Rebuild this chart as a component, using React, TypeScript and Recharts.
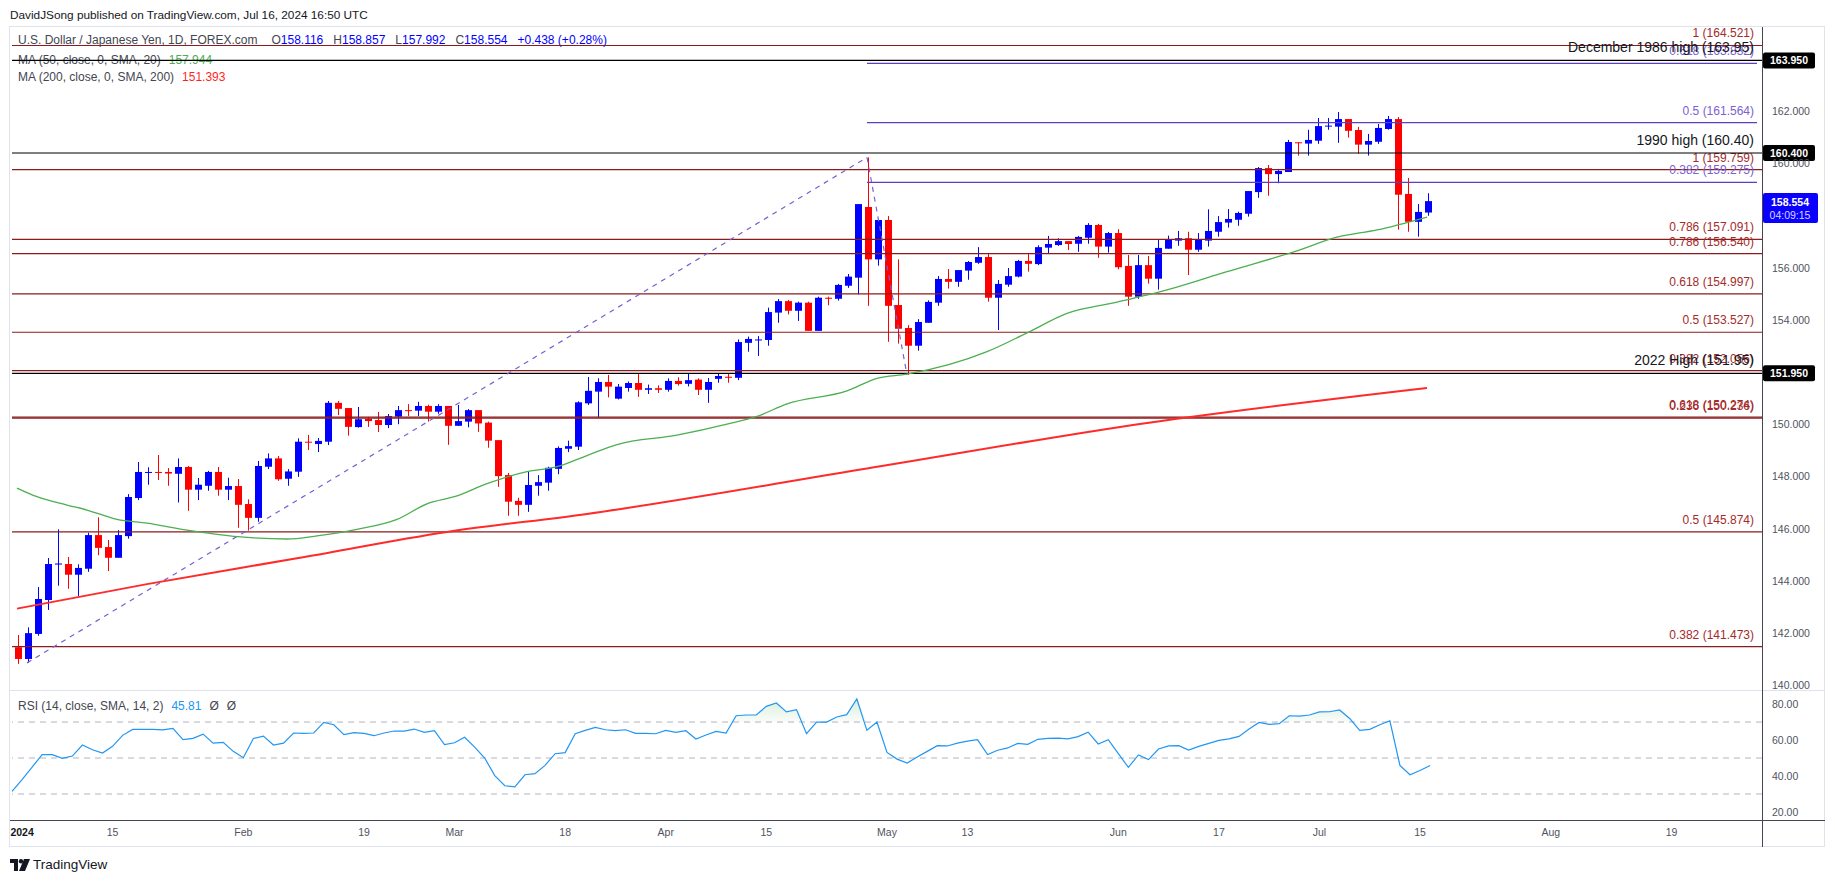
import React from "react";
import { ComposedChart, Bar, Line, Area, XAxis, YAxis, ReferenceLine } from "recharts";

const FONT = "'Liberation Sans', Arial, Helvetica, sans-serif";

// trading-day index: -1 = Jan 1 2024, 0 = Jan 2 2024 ... 140 = Jul 16 2024
const firstIdx = -1;
const lastIdx = 173;

const opens = [141.45,141.0,141.96,143.26,144.62,144.64,144.23,144.46,145.75,145.29,144.88,145.71,147.17,148.14,148.17,148.17,148.1,148.36,147.49,147.64,148.17,147.49,147.63,146.94,146.41,148.37,148.69,147.91,148.18,149.33,149.24,149.33,150.82,150.62,149.89,150.21,150.16,149.97,150.29,150.54,150.52,150.7,150.48,150.7,149.94,150.1,150.54,150.06,149.39,148.05,147.06,146.91,147.64,147.76,148.29,149.06,149.14,150.8,151.25,151.62,150.98,151.39,151.58,151.32,151.38,151.32,151.66,151.55,151.71,151.32,151.74,151.82,151.78,153.12,153.23,153.23,154.28,154.72,154.35,154.66,153.58,154.85,154.81,155.31,155.62,158.33,156.32,157.83,154.57,153.69,153.01,153.89,154.66,155.57,155.46,155.89,156.19,156.41,154.85,155.35,155.66,156.26,156.14,156.77,156.87,157.02,156.92,157.15,157.64,156.81,157.33,156.07,154.89,156.1,155.58,156.73,157.04,157.13,156.69,157.04,157.38,157.73,157.84,158.07,158.9,159.82,159.59,159.67,160.81,160.76,160.87,161.42,161.41,161.7,161.28,160.72,160.83,161.32,161.7,158.83,157.76,158.116];
const highs = [141.92,142.21,143.76,144.87,145.97,144.91,144.63,145.84,146.43,145.56,145.94,147.32,148.55,148.35,148.82,148.32,148.69,148.4,147.94,148.21,148.36,147.95,147.9,147.12,148.59,148.88,148.78,148.28,149.46,149.59,149.47,150.89,150.89,150.62,150.66,150.28,150.47,150.39,150.7,150.77,150.86,150.75,150.77,150.7,150.74,150.58,150.54,150.1,149.39,148.13,147.18,148.18,148.05,148.37,149.15,149.37,150.88,151.81,151.76,151.89,151.54,151.64,151.95,151.52,151.49,151.76,151.8,151.95,151.76,151.77,151.95,151.95,153.25,153.36,153.38,154.47,154.8,154.76,154.7,154.7,154.89,154.89,155.38,155.76,158.44,160.23,157.87,157.98,156.32,153.8,154.03,154.75,155.68,155.95,155.91,156.26,156.79,156.54,155.53,155.99,156.3,156.54,156.86,157.22,157.13,157.02,157.22,157.71,157.68,157.37,157.48,156.49,156.49,156.45,157.1,157.23,157.41,157.38,157.33,158.24,157.98,158.25,158.15,158.94,159.86,159.94,159.79,160.9,160.81,161.29,161.74,161.74,161.97,161.7,161.4,161.13,161.51,161.82,161.78,159.44,158.44,158.857];
const lows = [140.81,140.85,141.89,142.88,143.81,143.69,143.42,144.34,144.98,144.37,144.88,145.61,147.09,147.68,147.86,147.64,147.0,146.68,147.09,147.45,147.26,147.09,146.03,145.92,146.26,148.28,147.83,147.64,147.98,149.01,148.93,149.2,150.35,149.56,149.87,149.9,149.7,149.85,150.0,150.31,150.31,150.1,150.4,149.21,149.94,149.88,149.71,149.1,147.6,146.49,146.49,146.64,147.26,147.45,148.08,148.93,149.01,150.74,150.26,151.03,150.95,151.25,151.05,151.16,151.2,151.25,151.48,151.45,151.12,150.82,151.59,151.59,151.69,152.78,152.62,153.01,153.89,154.21,153.96,153.58,153.58,154.56,154.74,155.23,154.98,154.54,156.08,153.16,153.09,151.89,152.82,153.89,154.54,155.2,155.27,155.54,156.15,154.7,153.61,155.27,155.63,155.85,156.1,156.54,156.84,156.68,156.61,156.92,156.38,156.58,155.94,154.54,154.81,155.39,155.16,156.73,156.84,155.72,156.61,156.81,157.19,157.54,157.61,157.96,158.68,158.76,159.24,159.67,160.3,160.3,160.75,161.29,160.79,160.99,160.37,160.3,160.75,161.29,157.46,157.38,157.19,157.992];
const closes = [141.0,141.99,143.3,144.64,144.66,144.23,144.49,145.75,145.26,144.88,145.75,147.21,148.17,148.17,148.14,148.11,148.36,147.49,147.68,148.17,147.49,147.63,146.91,146.41,148.4,148.69,147.89,148.19,149.33,149.3,149.36,150.82,150.59,149.9,150.19,150.12,149.97,150.31,150.54,150.51,150.7,150.48,150.7,149.94,150.12,150.54,150.03,149.37,148.01,147.03,146.91,147.67,147.78,148.33,149.09,149.16,150.84,151.28,151.62,151.44,151.44,151.58,151.32,151.38,151.32,151.66,151.54,151.69,151.32,151.62,151.85,151.78,153.15,153.27,153.25,154.3,154.72,154.35,154.66,153.58,154.85,154.81,155.34,155.66,158.44,156.32,157.83,154.54,153.66,153.01,153.92,154.69,155.57,155.46,155.91,156.22,156.41,154.85,155.38,155.68,156.26,156.15,156.79,156.91,157.02,156.91,157.18,157.64,156.81,157.33,156.02,154.89,156.1,155.58,156.76,157.07,157.13,156.69,157.07,157.41,157.75,157.87,158.1,158.94,159.82,159.59,159.71,160.82,160.78,160.9,161.43,161.45,161.7,161.25,160.72,160.86,161.36,161.7,158.8,157.76,158.14,158.554];
const rsiValues = [31.5,38.0,45.0,51.9,51.9,49.8,51.1,57.2,54.6,52.8,56.5,62.6,65.9,65.9,65.9,65.6,66.5,60.2,60.9,63.3,58.3,58.7,53.7,50.2,60.9,62.2,57.2,58.3,63.9,63.7,63.9,69.8,68.5,63.0,64.1,63.7,62.4,63.9,65.0,65.0,66.1,64.3,65.2,57.4,58.5,61.5,56.1,50.0,40.2,34.6,34.0,40.7,41.3,45.9,52.4,53.0,63.5,65.4,67.0,65.7,65.2,65.7,63.7,63.7,63.5,65.4,64.3,65.2,60.6,62.8,64.8,63.9,73.5,73.9,73.9,78.7,80.6,75.6,76.9,63.5,70.0,70.0,72.8,74.1,82.8,65.4,70.0,53.1,49.4,47.2,50.6,53.7,56.9,56.7,58.3,59.4,60.2,51.9,54.3,55.6,58.1,57.6,60.4,60.9,61.1,60.6,61.9,64.4,57.8,60.2,52.4,44.8,51.7,49.1,55.0,56.7,56.9,54.4,56.5,58.1,59.8,60.6,62.0,66.1,69.8,68.7,69.1,73.5,73.3,73.9,75.6,75.7,76.7,72.0,65.4,65.9,68.5,70.7,45.9,40.7,43.1,45.81];

const ma50Idx = [-1,1,4,6,9,12,16,19,22,26,29,33,37,40,43,46,50,53,56,59,65,70,73,76,82,85,88,96,100,104,109,114,120,127,131,135,140];
const ma50Val = [147.55,147.22,146.9,146.71,146.35,146.21,145.94,145.78,145.66,145.6,145.72,145.97,146.35,146.95,147.25,147.72,148.18,148.37,148.8,149.22,149.58,150.0,150.3,150.78,151.28,151.76,151.92,152.78,153.5,154.25,154.68,155.15,155.85,156.65,157.17,157.45,157.944];
const ma200Idx = [-1,12,27,42,56,84,112,140];
const ma200Val = [142.93,143.87,144.86,145.87,146.56,148.3,150.05,151.393];

const xTickIdx = [0, 9, 22, 34, 43, 54, 64, 74, 86, 94, 109, 119, 129, 139, 152, 164];
const xTickLabels = ["2024", "15", "Feb", "19", "Mar", "18", "Apr", "15", "May", "13", "Jun", "17", "Jul", "15", "Aug", "19"];

const priceTicks = [140, 142, 144, 146, 148, 150, 154, 156, 160, 162];
const rsiTicks = [20, 40, 60, 80];

const redLevels = [164.521, 159.759, 157.091, 156.54, 154.997, 153.527, 152.056, 150.274, 150.236, 145.874, 141.473];
const redLabels = ["1 (164.521)", "1 (159.759)", "0.786 (157.091)", "0.786 (156.540)", "0.618 (154.997)", "0.5 (153.527)", "0.382 (152.056)", "0.618 (150.274)", "0.236 (150.236)", "0.5 (145.874)", "0.382 (141.473)"];
const purpleLevels = [163.832, 161.564, 159.275];
const purpleLabels = ["0.618 (163.832)", "0.5 (161.564)", "0.382 (159.275)"];
const purpleStartIdx = 84;
const keyLevels = [163.95, 160.4, 151.95];
const keyLabels = ["December 1986 high (163.95)", "1990 high (160.40)", "2022 High (151.95)"];
const keyBadges = ["163.950", "160.400", "151.950"];
const trendIdx = [0, 84, 88];
const trendVal = [140.85, 160.23, 151.89];
const lastPrice = 158.554;

const BLUE = "#0000ff";
const RED = "#ff0000";
const FIB_RED = "#8a1c1c";
const FIB_RED_TXT = "#a52a2a";
const PURPLE = "#5e3fc4";
const PURPLE_TXT = "#7b61d1";

const rows: any[] = [];
for (let k = firstIdx; k <= lastIdx; k++) {
  const j = k - firstIdx;
  const r: any = { k };
  if (j < opens.length) {
    r.o = opens[j];
    r.h = highs[j];
    r.l = lows[j];
    r.c = closes[j];
    r.range = [lows[j], highs[j]];
    r.rsi = rsiValues[j];
  }
  const a = ma50Idx.indexOf(k);
  if (a >= 0) r.ma50 = ma50Val[a];
  const b = ma200Idx.indexOf(k);
  if (b >= 0) r.ma200 = ma200Val[b];
  rows.push(r);
}

const Candle = (props: any) => {
  const { x, y, width, height, payload } = props;
  if (!payload || payload.o == null || x == null || y == null) return null;
  const top = Math.min(y, y + height);
  const h = Math.abs(height);
  const span = payload.h - payload.l || 1;
  const yOf = (v: number) => top + ((payload.h - v) / span) * h;
  const up = payload.c >= payload.o;
  const col = up ? BLUE : RED;
  const cx = Math.round(x + width / 2) + 0.5;
  const bTop = yOf(Math.max(payload.o, payload.c));
  const bBot = yOf(Math.min(payload.o, payload.c));
  return (
    <g>
      <line x1={cx} x2={cx} y1={top} y2={top + h} stroke={col} strokeWidth={1} />
      <rect x={cx - 3.5} y={bTop} width={7} height={Math.max(1, bBot - bTop)} fill={col} />
    </g>
  );
};

const makeLabel = (text: string, color: string, size: number, offset: number, badge?: string) => (props: any) => {
  const vb = props.viewBox || {};
  const right = (vb.x || 0) + (vb.width || 0);
  const yy = vb.y || 0;
  return (
    <g>
      {text ? (
        <text x={right - offset} y={yy - 8} textAnchor="end" fontSize={size} fill={color} fontFamily={FONT}>
          {text}
        </text>
      ) : null}
      {badge ? (
        <g>
          <rect x={right + 1} y={yy - 8} width={52} height={16} fill="#000000" rx={2} />
          <text x={right + 27} y={yy + 4} textAnchor="middle" fontSize={10.5} fontWeight="bold" fill="#ffffff" fontFamily={FONT}>
            {badge}
          </text>
        </g>
      ) : null}
    </g>
  );
};

const lastLabel = (props: any) => {
  const vb = props.viewBox || {};
  const right = (vb.x || 0) + (vb.width || 0);
  const yy = vb.y || 0;
  return (
    <g>
      <rect x={right + 1} y={yy - 8} width={55} height={30} fill="#0a00ff" rx={2} />
      <text x={right + 28} y={yy + 5} textAnchor="middle" fontSize={10.5} fontWeight="bold" fill="#ffffff" fontFamily={FONT}>
        {lastPrice.toFixed(3)}
      </text>
      <text x={right + 28} y={yy + 18} textAnchor="middle" fontSize={10.5} fill="#d6d6ff" fontFamily={FONT}>
        04:09:15
      </text>
    </g>
  );
};

const PriceTick = (props: any) => {
  const { x, y, payload } = props;
  return (
    <text x={x} y={y} dy={4} textAnchor="start" fontSize={10.5} fill="#50535e" fontFamily={FONT}>
      {Number(payload.value).toFixed(3)}
    </text>
  );
};

const RsiTick = (props: any) => {
  const { x, y, payload } = props;
  return (
    <text x={x} y={y} dy={4} textAnchor="start" fontSize={10.5} fill="#50535e" fontFamily={FONT}>
      {Number(payload.value).toFixed(2)}
    </text>
  );
};

const DateTick = (props: any) => {
  const { x, y, payload } = props;
  const i = xTickIdx.indexOf(payload.value);
  const label = i >= 0 ? xTickLabels[i] : "";
  const isYear = label === "2024";
  return (
    <text x={x} y={y} dy={12} textAnchor="middle" fontSize={10.5} fill={isYear ? "#131722" : "#50535e"} fontWeight={isYear ? "bold" : "normal"} fontFamily={FONT}>
      {label}
    </text>
  );
};

const txt: React.CSSProperties = { position: "absolute", fontFamily: FONT, whiteSpace: "nowrap", lineHeight: "14px" };

export default function App() {
  return (
    <div style={{ position: "absolute", left: 0, top: 0, width: 1835, height: 883, background: "#ffffff", overflow: "hidden" }}>
      {/* frame */}
      <svg width={1835} height={883} style={{ position: "absolute", left: 0, top: 0 }}>
        <rect x={9.5} y={26.5} width={1815} height={820} fill="none" stroke="#e0e3eb" />
        <line x1={10} x2={1825} y1={690.5} y2={690.5} stroke="#e0e3eb" />
        <line x1={10} x2={1825} y1={820.5} y2={820.5} stroke="#434651" />
        <line x1={1762.5} x2={1762.5} y1={27} y2={847} stroke="#434651" />
      </svg>

      <div style={{ ...txt, left: 10, top: 8, fontSize: 11.8, color: "#131722" }}>
        DavidJSong published on TradingView.com, Jul 16, 2024 16:50 UTC
      </div>
      <div style={{ ...txt, left: 18, top: 33, fontSize: 12, color: "#434651" }}>
        U.S. Dollar / Japanese Yen, 1D, FOREX.com
        <span style={{ marginLeft: 14 }}>O</span><span style={{ color: BLUE }}>158.116</span>
        <span style={{ marginLeft: 10 }}>H</span><span style={{ color: BLUE }}>158.857</span>
        <span style={{ marginLeft: 10 }}>L</span><span style={{ color: BLUE }}>157.992</span>
        <span style={{ marginLeft: 10 }}>C</span><span style={{ color: BLUE }}>158.554</span>
        <span style={{ marginLeft: 10, color: BLUE }}>+0.438 (+0.28%)</span>
      </div>
      <div style={{ ...txt, left: 18, top: 53, fontSize: 12, color: "#434651" }}>
        MA (50, close, 0, SMA, 20)<span style={{ marginLeft: 8, color: "#4caf50" }}>157.944</span>
      </div>
      <div style={{ ...txt, left: 18, top: 70, fontSize: 12, color: "#434651" }}>
        MA (200, close, 0, SMA, 200)<span style={{ marginLeft: 8, color: "#ff1f1f" }}>151.393</span>
      </div>
      <div style={{ ...txt, left: 18, top: 699, fontSize: 12, color: "#434651" }}>
        RSI (14, close, SMA, 14, 2)<span style={{ marginLeft: 8, color: "#2196f3" }}>45.81</span>
        <span style={{ marginLeft: 8 }}>Ø</span><span style={{ marginLeft: 8 }}>Ø</span>
      </div>

      {/* price panel */}
      <div style={{ position: "absolute", left: 0, top: 0 }}>
        <ComposedChart width={1835} height={690} data={rows} margin={{ top: 27, right: 13, bottom: 0, left: 12 }}>
          <XAxis dataKey="k" hide />
          <YAxis
            yAxisId={0}
            orientation="right"
            width={60}
            domain={[139.81, 165.23]}
            allowDataOverflow
            ticks={priceTicks}
            interval={0}
            axisLine={false}
            tickLine={false}
            tickSize={0}
            tickMargin={10}
            tick={<PriceTick />}
          />
          {redLevels.map((v, i) => (
            <ReferenceLine key={"r" + i} y={v} stroke={FIB_RED} strokeWidth={1.2} label={makeLabel(redLabels[i], FIB_RED_TXT, 12, 8)} />
          ))}
          {purpleLevels.map((v, i) => (
            <ReferenceLine
              key={"p" + i}
              segment={[{ x: purpleStartIdx, y: v }, { x: lastIdx, y: v }]}
              stroke={PURPLE}
              strokeWidth={1.2}
              label={makeLabel(purpleLabels[i], PURPLE_TXT, 12, 3)}
            />
          ))}
          {keyLevels.map((v, i) => (
            <ReferenceLine key={"k" + i} y={v} stroke="#000000" strokeWidth={1.2} label={makeLabel(keyLabels[i], "#131722", 14, 8, keyBadges[i])} />
          ))}
          <ReferenceLine
            segment={[{ x: trendIdx[0], y: trendVal[0] }, { x: trendIdx[1], y: trendVal[1] }]}
            stroke="#7a5fd0"
            strokeDasharray="5 5"
            strokeWidth={1.2}
          />
          <ReferenceLine
            segment={[{ x: trendIdx[1], y: trendVal[1] }, { x: trendIdx[2], y: trendVal[2] }]}
            stroke="#7a5fd0"
            strokeDasharray="5 5"
            strokeWidth={1.2}
          />
          <Line dataKey="ma200" type="monotone" stroke="#ff2a2a" strokeWidth={2} dot={false} connectNulls isAnimationActive={false} />
          <Line dataKey="ma50" type="monotone" stroke="#4caf50" strokeWidth={1.3} dot={false} connectNulls isAnimationActive={false} />
          <Bar dataKey="range" barSize={7} shape={Candle} isAnimationActive={false} />
          <ReferenceLine y={lastPrice} stroke="none" label={lastLabel} />
        </ComposedChart>
      </div>

      {/* RSI panel */}
      <div style={{ position: "absolute", left: 0, top: 690 }}>
        <ComposedChart width={1835} height={193} data={rows} margin={{ top: 0, right: 13, bottom: 43, left: 12 }}>
          <defs>
            <linearGradient id="rsiFill" x1="0" y1="0" x2="0" y2="1">
              <stop offset="0%" stopColor="#4caf50" stopOpacity={0.35} />
              <stop offset="100%" stopColor="#4caf50" stopOpacity={0.05} />
            </linearGradient>
          </defs>
          <XAxis
            dataKey="k"
            ticks={xTickIdx}
            interval={0}
            height={20}
            axisLine={false}
            tickLine={false}
            tickSize={0}
            tickMargin={4}
            tick={<DateTick />}
          />
          <YAxis
            orientation="right"
            width={60}
            domain={[15.56, 87.8]}
            allowDataOverflow
            ticks={rsiTicks}
            interval={0}
            axisLine={false}
            tickLine={false}
            tickSize={0}
            tickMargin={10}
            tick={<RsiTick />}
          />
          <ReferenceLine y={70} stroke="#b2b5be" strokeDasharray="6 5" />
          <ReferenceLine y={50} stroke="#b2b5be" strokeDasharray="6 5" />
          <ReferenceLine y={30} stroke="#b2b5be" strokeDasharray="6 5" />
          <Area
            dataKey={(d: any) => (d.rsi == null ? null : [70, Math.max(70, d.rsi)])}
            stroke="none"
            fill="url(#rsiFill)"
            isAnimationActive={false}
          />
          <Line dataKey="rsi" stroke="#2196f3" strokeWidth={1.2} dot={false} isAnimationActive={false} />
        </ComposedChart>
      </div>

      {/* TradingView logo */}
      <svg width={24} height={14} style={{ position: "absolute", left: 10, top: 859 }}>
        <path d="M0 0 H8 V12 H4 V4 H0 Z" fill="#131722" />
        <circle cx={11} cy={2.2} r={2.2} fill="#131722" />
        <path d="M14 0 H20 L15 12 H9 Z" fill="#131722" />
      </svg>
      <div style={{ ...txt, left: 33, top: 858, fontSize: 13.5, color: "#131722" }}>TradingView</div>
    </div>
  );
}
